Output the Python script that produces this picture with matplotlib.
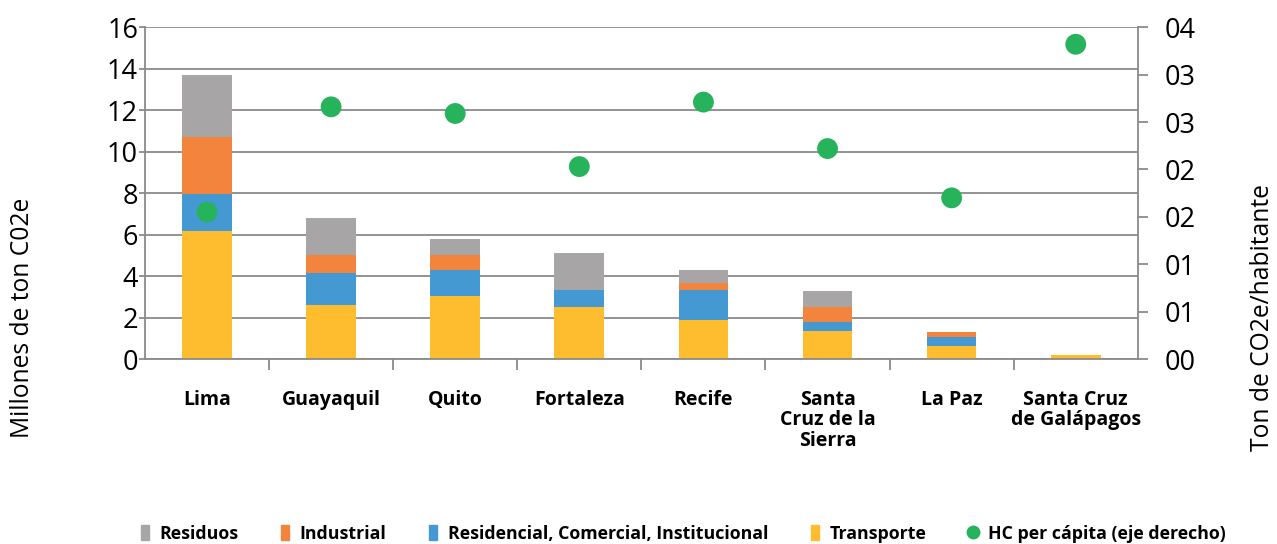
#!/usr/bin/env python3
"""Emisiones de GEI por ciudad: barras apiladas por sector y huella per cápita."""

import matplotlib

matplotlib.use("Agg")
import matplotlib.pyplot as plt
from matplotlib.lines import Line2D
from matplotlib.patches import Patch
from matplotlib.ticker import FixedLocator

cities = [
    "Lima",
    "Guayaquil",
    "Quito",
    "Fortaleza",
    "Recife",
    "Santa\nCruz de la\nSierra",
    "La Paz",
    "Santa Cruz\nde Galápagos",
]

# millones de ton CO2e por sector
transporte = [6.16, 2.61, 3.05, 2.51, 1.89, 1.36, 0.64, 0.21]
residencial = [1.82, 1.53, 1.25, 0.82, 1.44, 0.45, 0.43, 0.0]
industrial = [2.74, 0.87, 0.71, 0.0, 0.33, 0.70, 0.24, 0.0]
residuos = [2.98, 1.77, 0.77, 1.77, 0.63, 0.77, 0.0, 0.0]

# ton CO2e / habitante (eje derecho)
hc_per_capita = [1.55, 2.66, 2.59, 2.03, 2.71, 2.22, 1.70, 3.32]

left_ticks = [0, 2, 4, 6, 8, 10, 12, 14, 16]
right_ticks = [0, 0.5, 1.0, 1.5, 2.0, 2.5, 3.0, 3.5]
right_tick_labels = ["00", "01", "01", "02", "02", "03", "03", "04"]

colors = {
    "residuos": "#a7a5a6",
    "industrial": "#f2843d",
    "residencial": "#4599d3",
    "transporte": "#fdbd2f",
    "hc": "#27b35b",
}

NUM_FONT = ["Open Sans", "DejaVu Sans"]
BOLD_FONT = ["Open Sans", "DejaVu Sans"]
GRID = "#8a8a8a"

fig = plt.figure(figsize=(12.77, 5.44), dpi=100)
ax = fig.add_axes([0.1135, 0.340, 0.7775, 0.610])

x = list(range(len(cities)))
width = 0.40
bottom = [0.0] * len(cities)
for values, key in [
    (transporte, "transporte"),
    (residencial, "residencial"),
    (industrial, "industrial"),
    (residuos, "residuos"),
]:
    ax.bar(x, values, width, bottom=bottom, color=colors[key], zorder=2)
    bottom = [b + v for b, v in zip(bottom, values)]

ax.set_xlim(-0.5, len(cities) - 0.5)
ax.set_ylim(0, 16)
ax.set_yticks(left_ticks)
ax.set_yticklabels([str(t) for t in left_ticks], fontsize=19.5, family=NUM_FONT)
ax.tick_params(axis="y", length=4, color=GRID, width=1.3, pad=1)
ax.grid(axis="y", color=GRID, linewidth=1.3, zorder=0)
ax.set_axisbelow(True)

ax.set_xticks(x)
ax.set_xticklabels(cities, fontsize=14, fontweight="bold", family=BOLD_FONT,
                   linespacing=1.05, va="top")
ax.tick_params(axis="x", which="major", length=0, pad=22)
ax.xaxis.set_minor_locator(FixedLocator([i - 0.5 for i in range(1, len(cities))]))
ax.tick_params(axis="x", which="minor", length=8, color=GRID, width=1.3,
               direction="out")

ax.spines["top"].set_visible(False)
ax.spines["right"].set_visible(False)
for side in ["left", "bottom"]:
    ax.spines[side].set_color(GRID)
    ax.spines[side].set_linewidth(1.3)

ax2 = ax.twinx()
ax2.set_ylim(0, 3.5)
ax2.scatter(x, hc_per_capita, s=225, color=colors["hc"], zorder=3,
            edgecolors="none")
ax2.set_yticks(right_ticks)
ax2.set_yticklabels(right_tick_labels, fontsize=19.5, family=NUM_FONT)
ax2.tick_params(axis="y", length=7.5, color=GRID, width=1.3, pad=12)
for side in ["top", "left", "bottom"]:
    ax2.spines[side].set_visible(False)
ax2.spines["right"].set_color(GRID)
ax2.spines["right"].set_linewidth(1.3)

fig.text(0.018, 0.415, "Millones de ton C02e", rotation=90, ha="center",
         va="center", fontsize=17.7, family=NUM_FONT)
fig.text(0.989, 0.417, "Ton de CO2e/habitante", rotation=90, ha="center",
         va="center", fontsize=17.7, family=NUM_FONT)

handles = [
    Patch(color=colors["residuos"], label="Residuos"),
    Patch(color=colors["industrial"], label="Industrial"),
    Patch(color=colors["residencial"], label="Residencial, Comercial, Institucional"),
    Patch(color=colors["transporte"], label="Transporte"),
    Line2D([], [], marker="o", linestyle="none", markersize=10,
           markerfacecolor=colors["hc"], markeredgecolor="none",
           label="HC per cápita (eje derecho)"),
]
fig.legend(
    handles=handles,
    loc="center",
    bbox_to_anchor=(0.535, 0.019),
    ncol=5,
    frameon=False,
    handlelength=0.45,
    handleheight=0.9,
    handletextpad=0.6,
    columnspacing=2.4,
    prop={"family": BOLD_FONT, "weight": "bold", "size": 12.8},
)

fig.savefig("out.png", dpi=100)
plt.close(fig)
print("Wrote out.png")
